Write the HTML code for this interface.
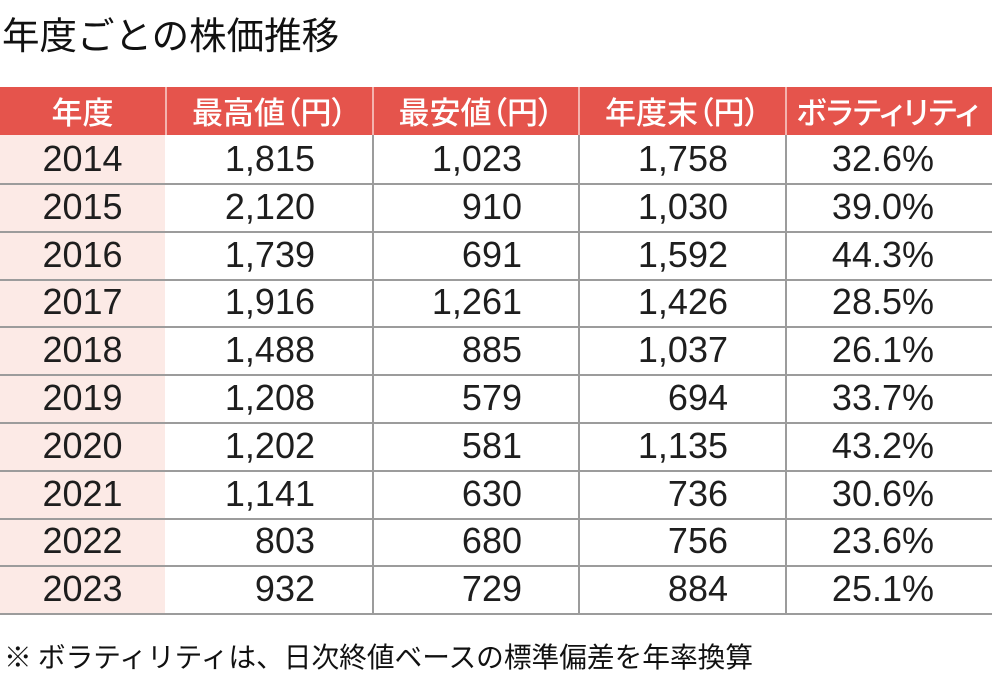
<!DOCTYPE html>
<html><head><meta charset="utf-8">
<style>
*{margin:0;padding:0;box-sizing:border-box}
html,body{width:992px;height:681px;background:#fff;overflow:hidden}
body{position:relative;font-family:"Liberation Sans","Noto Sans CJK JP",sans-serif;color:#1a1a1a}
.title{position:absolute;left:2px;top:14px;font-size:37.5px;line-height:37.5px;font-family:"Noto Sans CJK JP",sans-serif;font-weight:400;white-space:nowrap;color:#111}
.hdr{position:absolute;top:87px;height:48px;background:#E5544C}
.hcell{position:absolute;top:87px;height:48px;line-height:48px;text-align:center;color:#fff;font-family:"Noto Sans CJK JP",sans-serif;font-size:31px;font-weight:500;font-feature-settings:"palt";white-space:nowrap}
.pink{position:absolute;left:0;top:135px;width:165px;height:479px;background:#FCEAE6}
.hl{position:absolute;left:0;width:992px;height:2px;background:#9c9c9c}
.vl{position:absolute;top:135px;width:2px;height:480px;background:#9c9c9c}
.hs{position:absolute;top:87px;width:2px;height:48px;background:#F4B3AE}
.row{position:absolute;left:0;width:992px;height:48px}
.c{position:absolute;top:0;height:48px;line-height:48px;font-size:36px;white-space:nowrap;color:#1e1e1e}
.y{left:0;width:165px;text-align:center}
.a{right:677px;text-align:right}
.b{right:470px;text-align:right}
.d{right:264px;text-align:right}
.e{right:58px;text-align:right}
.note{position:absolute;left:4px;top:642px;font-size:27.7px;line-height:27.7px;font-family:"Noto Sans CJK JP",sans-serif;white-space:nowrap;color:#111}
</style></head><body>
<div class="title">年度ごとの株価推移</div>
<div class="hdr" style="left:0;width:992px"></div>
<div class="hs" style="left:165px"></div>
<div class="hs" style="left:372px"></div>
<div class="hs" style="left:578px"></div>
<div class="hs" style="left:785px"></div>
<div class="hcell" style="left:0;width:165px">年度</div>
<div class="hcell" style="left:167px;width:205px">最高値（円）</div>
<div class="hcell" style="left:374px;width:204px">最安値（円）</div>
<div class="hcell" style="left:580px;width:205px">年度末（円）</div>
<div class="hcell" style="left:785px;width:205px">ボラティリティ</div>
<div class="pink"></div>
<div class="vl" style="left:372px"></div>
<div class="vl" style="left:578px"></div>
<div class="vl" style="left:785px"></div>
<div class="hl" style="top:183px"></div>
<div class="hl" style="top:231px"></div>
<div class="hl" style="top:279px"></div>
<div class="hl" style="top:326px"></div>
<div class="hl" style="top:374px"></div>
<div class="hl" style="top:422px"></div>
<div class="hl" style="top:470px"></div>
<div class="hl" style="top:518px"></div>
<div class="hl" style="top:565px"></div>
<div class="hl" style="top:613px"></div>

<div class="row" style="top:135px"><div class="c y">2014</div><div class="c a">1,815</div><div class="c b">1,023</div><div class="c d">1,758</div><div class="c e">32.6%</div></div>
<div class="row" style="top:183px"><div class="c y">2015</div><div class="c a">2,120</div><div class="c b">910</div><div class="c d">1,030</div><div class="c e">39.0%</div></div>
<div class="row" style="top:231px"><div class="c y">2016</div><div class="c a">1,739</div><div class="c b">691</div><div class="c d">1,592</div><div class="c e">44.3%</div></div>
<div class="row" style="top:278px"><div class="c y">2017</div><div class="c a">1,916</div><div class="c b">1,261</div><div class="c d">1,426</div><div class="c e">28.5%</div></div>
<div class="row" style="top:326px"><div class="c y">2018</div><div class="c a">1,488</div><div class="c b">885</div><div class="c d">1,037</div><div class="c e">26.1%</div></div>
<div class="row" style="top:374px"><div class="c y">2019</div><div class="c a">1,208</div><div class="c b">579</div><div class="c d">694</div><div class="c e">33.7%</div></div>
<div class="row" style="top:422px"><div class="c y">2020</div><div class="c a">1,202</div><div class="c b">581</div><div class="c d">1,135</div><div class="c e">43.2%</div></div>
<div class="row" style="top:470px"><div class="c y">2021</div><div class="c a">1,141</div><div class="c b">630</div><div class="c d">736</div><div class="c e">30.6%</div></div>
<div class="row" style="top:517px"><div class="c y">2022</div><div class="c a">803</div><div class="c b">680</div><div class="c d">756</div><div class="c e">23.6%</div></div>
<div class="row" style="top:565px"><div class="c y">2023</div><div class="c a">932</div><div class="c b">729</div><div class="c d">884</div><div class="c e">25.1%</div></div>

<div class="note">※ ボラティリティは、日次終値ベースの標準偏差を年率換算</div>
</body></html>
